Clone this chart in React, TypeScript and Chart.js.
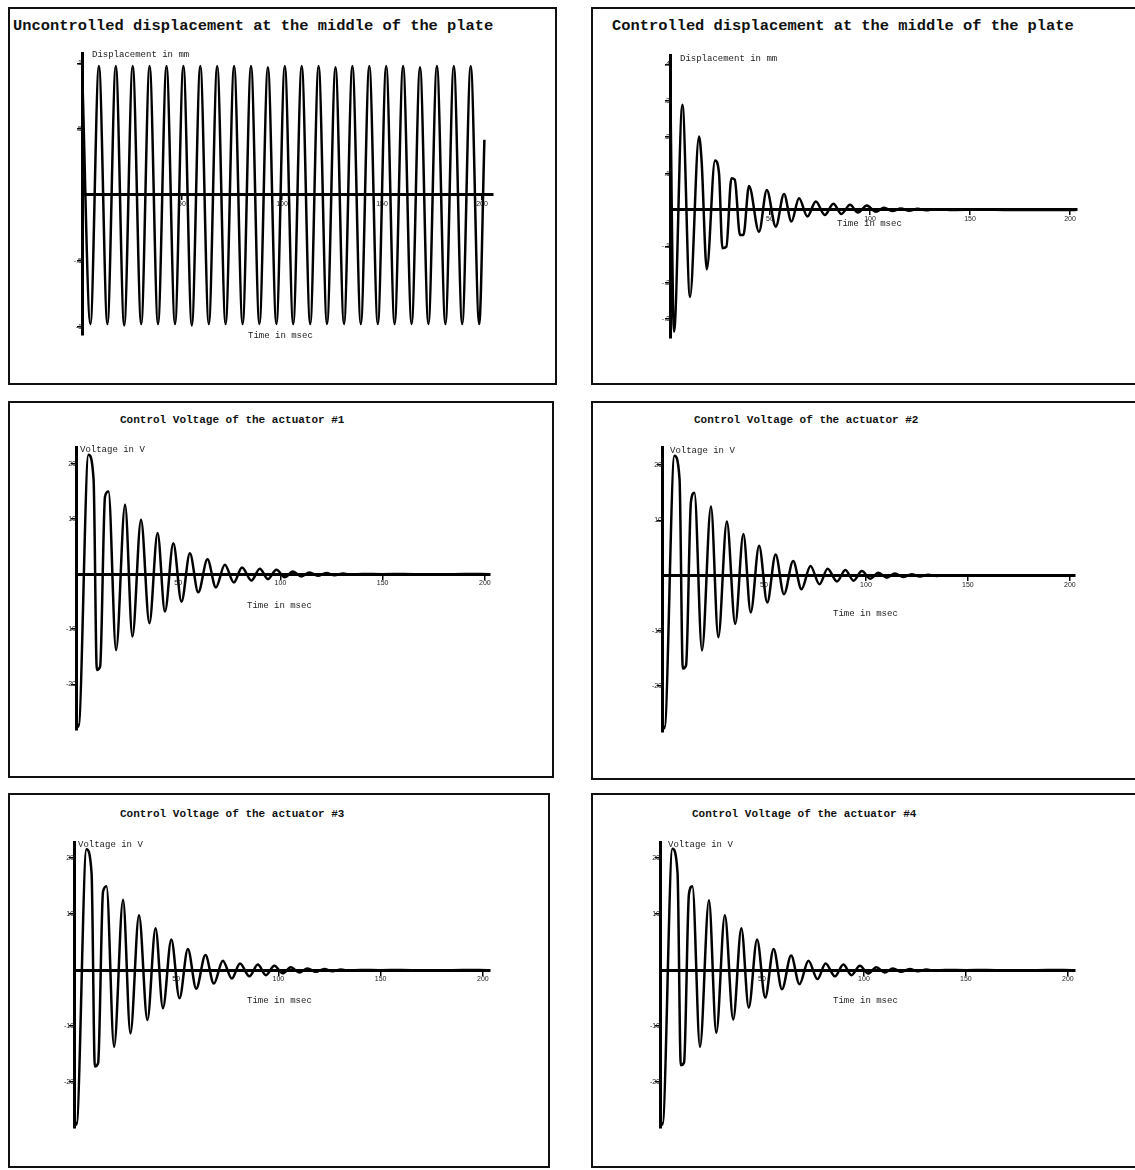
import React, { useEffect, useRef } from "react";
import { Chart, registerables } from "chart.js";
Chart.register(...registerables);

// ---------- DATA ----------
const uncontrolledTime = [0, 4.2, 8.45, 12.7, 16.9, 21.1, 25.35, 29.6, 33.8, 38.0, 42.25, 46.5, 50.7, 54.9, 59.15, 63.4, 67.6, 71.8, 76.05, 80.3, 84.5, 88.7, 92.95, 97.2, 101.4, 105.6, 109.85, 114.1, 118.3, 122.5, 126.75, 131.0, 135.2, 139.4, 143.65, 147.9, 152.1, 156.3, 160.55, 164.8, 169.0, 173.2, 177.45, 181.7, 185.9, 190.1, 194.35, 198.6, 201.2];
const uncontrolledDisp = [0.98, -0.98, 0.98, -0.98, 0.98, -0.99, 0.98, -0.98, 0.98, -0.98, 0.98, -0.98, 0.98, -0.99, 0.98, -0.98, 0.98, -0.98, 0.98, -0.98, 0.98, -0.98, 0.97, -0.98, 0.98, -0.98, 0.98, -0.98, 0.98, -0.98, 0.97, -0.98, 0.98, -0.98, 0.98, -0.98, 0.98, -0.98, 0.98, -0.98, 0.97, -0.98, 0.98, -0.98, 0.98, -0.98, 0.98, -0.98, 0.42];

const controlledTime = [0, 2.0, 6.2, 10.0, 14.5, 15.8, 18.4, 22.5, 24.5, 26.2, 28.2, 30.7, 32.4, 35.0, 36.7, 39.5, 44.5, 48.4, 52.9, 57.0, 60.7, 64.5, 68.7, 72.9, 77.4, 81.7, 85.7, 90.0, 94.0, 98.4, 102.9, 107.0, 111.2, 115.4, 119.6, 123.8, 128.0, 132.2, 140, 155, 170, 185, 203];
const controlledDisp = [0.41, -0.335, 0.289, -0.239, 0.202, 0.135, -0.163, 0.136, 0.101, -0.105, -0.101, 0.087, 0.083, -0.069, -0.069, 0.066, -0.06, 0.055, -0.046, 0.044, -0.032, 0.032, -0.018, 0.023, -0.014, 0.017, -0.011, 0.014, -0.007, 0.012, -0.005, 0.006, -0.003, 0.004, -0.002, 0.003, -0.001, 0.002, 0, 0.001, 0, 0, 0];

const actuatorTime = [0, 1.2, 6.1, 8.6, 10.2, 11.8, 14.2, 15.9, 19.6, 24.0, 27.6, 31.8, 35.9, 39.9, 43.5, 47.6, 51.6, 55.7, 59.8, 64.3, 68.4, 72.8, 77.2, 81.2, 85.8, 89.9, 93.9, 98.0, 102.1, 106.1, 110.2, 114.2, 118.3, 122.4, 126.5, 130.6, 134.7, 140, 150, 160, 175, 190, 202];
const actuator1Volt = [-26.5, -27.7, 21.7, 17.2, -17.4, -16.8, 14.1, 15.0, -13.8, 12.6, -11.3, 9.9, -8.9, 7.5, -6.8, 5.6, -5.0, 3.8, -3.3, 2.7, -2.4, 1.7, -1.5, 1.2, -1.15, 1.0, -0.9, 0.8, -0.55, 0.5, -0.4, 0.3, -0.3, 0.2, -0.2, 0.12, -0.1, 0.05, 0, 0.05, -0.05, 0.05, 0];
const actuator2Volt = [-26.8, -27.7, 21.7, 17.5, -16.9, -16.3, 13.4, 15.0, -13.6, 12.5, -11.2, 9.8, -8.8, 7.5, -6.7, 5.4, -4.9, 3.8, -3.4, 2.6, -2.5, 1.7, -1.6, 1.2, -1.1, 1.0, -0.95, 0.8, -0.6, 0.5, -0.4, 0.35, -0.3, 0.2, -0.2, 0.12, -0.1, 0.05, 0, 0.05, -0.05, 0.05, 0];
const actuator3Volt = [-26.6, -27.6, 21.6, 17.3, -17.2, -16.6, 14.0, 15.0, -13.7, 12.6, -11.3, 9.8, -8.9, 7.5, -6.8, 5.5, -5.0, 3.8, -3.3, 2.7, -2.4, 1.7, -1.5, 1.2, -1.1, 1.0, -0.9, 0.8, -0.55, 0.5, -0.4, 0.3, -0.3, 0.2, -0.2, 0.12, -0.1, 0.05, 0, 0.05, -0.05, 0.05, 0];
const actuator4Volt = [-26.7, -27.6, 21.7, 17.4, -17.0, -16.5, 13.6, 15.0, -13.7, 12.5, -11.2, 9.8, -8.8, 7.5, -6.7, 5.5, -4.9, 3.8, -3.4, 2.6, -2.5, 1.7, -1.6, 1.2, -1.1, 1.0, -0.9, 0.8, -0.6, 0.5, -0.4, 0.3, -0.3, 0.2, -0.2, 0.12, -0.1, 0.05, 0, 0.05, -0.05, 0.05, 0];

const timeTicks = [50, 100, 150, 200];
const timeTickLabels = ["50", "100", "150", "200"];
const uncontrolledTicks = [1, 0.5, -0.5, -1];
const uncontrolledTickLabels = ["1", ".5", "-.5", "-1"];
const controlledTicks = [0.4, 0.3, 0.2, 0.1, -0.1, -0.2, -0.3];
const controlledTickLabels = [".4", ".3", ".2", ".1", "-.1", "-.2", "-.3"];
const voltTicks = [20, 10, -10, -20];
const voltTickLabels = ["20", "10", "-10", "-20"];

// ---------- PANEL CONFIG ----------
type PanelCfg = {
  box: [number, number, number, number];
  plot: [number, number, number, number];
  xMax: number;
  yMin: number;
  yMax: number;
  yTicks: number[];
  yLabels: string[];
  time: number[];
  values: number[];
  title: string;
  titlePos: [number, number];
  titleSize: number;
  yTitle: string;
  yTitlePos: [number, number];
  xTitle: string;
  xTitlePos: [number, number];
};

const panels: PanelCfg[] = [
  {
    box: [8, 7, 549, 378], plot: [82, 53, 493, 335], xMax: 205.5, yMin: -1.063, yMax: 1.078,
    yTicks: uncontrolledTicks, yLabels: uncontrolledTickLabels,
    time: uncontrolledTime, values: uncontrolledDisp,
    title: "Uncontrolled displacement at the middle of the plate", titlePos: [13, 27], titleSize: 15.4,
    yTitle: "Displacement in mm", yTitlePos: [92, 55], xTitle: "Time in msec", xTitlePos: [248, 336],
  },
  {
    box: [591, 7, 560, 378], plot: [670, 55, 1077, 338], xMax: 203.5, yMin: -0.352, yMax: 0.426,
    yTicks: controlledTicks, yLabels: controlledTickLabels,
    time: controlledTime, values: controlledDisp,
    title: "Controlled displacement at the middle of the plate", titlePos: [612, 27], titleSize: 15.4,
    yTitle: "Displacement in mm", yTitlePos: [680, 59], xTitle: "Time in msec", xTitlePos: [837, 224],
  },
  {
    box: [8, 401, 546, 377], plot: [76, 447, 490, 730], xMax: 202.5, yMin: -28.3, yMax: 23.1,
    yTicks: voltTicks, yLabels: voltTickLabels,
    time: actuatorTime, values: actuator1Volt,
    title: "Control Voltage of the actuator #1", titlePos: [120, 420], titleSize: 11,
    yTitle: "Voltage in V", yTitlePos: [80, 450], xTitle: "Time in msec", xTitlePos: [247, 606],
  },
  {
    box: [591, 401, 560, 379], plot: [662, 447, 1075, 732], xMax: 202.5, yMin: -28.4, yMax: 23.3,
    yTicks: voltTicks, yLabels: voltTickLabels,
    time: actuatorTime, values: actuator2Volt,
    title: "Control Voltage of the actuator #2", titlePos: [694, 420], titleSize: 11,
    yTitle: "Voltage in V", yTitlePos: [670, 451], xTitle: "Time in msec", xTitlePos: [833, 614],
  },
  {
    box: [8, 793, 542, 375], plot: [74, 842, 490, 1128], xMax: 203.5, yMin: -28.2, yMax: 22.9,
    yTicks: voltTicks, yLabels: voltTickLabels,
    time: actuatorTime, values: actuator3Volt,
    title: "Control Voltage of the actuator #3", titlePos: [120, 814], titleSize: 11,
    yTitle: "Voltage in V", yTitlePos: [78, 845], xTitle: "Time in msec", xTitlePos: [247, 1001],
  },
  {
    box: [591, 793, 560, 375], plot: [660, 842, 1075, 1128], xMax: 203.5, yMin: -28.2, yMax: 22.9,
    yTicks: voltTicks, yLabels: voltTickLabels,
    time: actuatorTime, values: actuator4Volt,
    title: "Control Voltage of the actuator #4", titlePos: [692, 814], titleSize: 11,
    yTitle: "Voltage in V", yTitlePos: [668, 845], xTitle: "Time in msec", xTitlePos: [833, 1001],
  },
];

function Panel({ cfg }: { cfg: PanelCfg }) {
  const ref = useRef<HTMLCanvasElement>(null);
  const [bl, bt, bw, bh] = cfg.box;
  useEffect(() => {
    const [pl, pt, pr, pb] = cfg.plot;
    const textPlugin = {
      id: "axisTexts",
      afterDraw(chart: any) {
        const ctx = chart.ctx;
        ctx.save();
        ctx.fillStyle = "#222";
        ctx.font = '9px "Liberation Mono", monospace';
        ctx.textBaseline = "middle";
        ctx.textAlign = "left";
        ctx.fillText(cfg.yTitle, cfg.yTitlePos[0] - bl, cfg.yTitlePos[1] - bt);
        ctx.fillText(cfg.xTitle, cfg.xTitlePos[0] - bl, cfg.xTitlePos[1] - bt);
        ctx.restore();
      },
    };
    const tickFont = { size: 7, family: '"Liberation Sans", sans-serif' };
    const chart = new Chart(ref.current as HTMLCanvasElement, {
      type: "line",
      data: {
        datasets: [
          {
            data: cfg.time.map((t, i) => ({ x: t, y: cfg.values[i] })),
            borderColor: "#000",
            borderWidth: 2.5,
            pointRadius: 0,
            cubicInterpolationMode: "monotone",
            fill: false,
          },
        ],
      },
      options: {
        animation: false,
        responsive: false,
        devicePixelRatio: 1,
        events: [],
        layout: { padding: { left: pl - bl, top: pt - bt, right: bl + bw - pr, bottom: bt + bh - pb } },
        plugins: { legend: { display: false }, tooltip: { enabled: false }, title: { display: false } },
        scales: {
          x: {
            type: "linear",
            position: { y: 0 } as any,
            min: 0,
            max: cfg.xMax,
            grid: { drawOnChartArea: false, drawTicks: true, tickLength: 4, color: "#000", lineWidth: 1.5 },
            border: { display: true, color: "#000", width: 3 },
            afterBuildTicks: (s: any) => {
              s.ticks = timeTicks.map((v) => ({ value: v }));
            },
            ticks: {
              font: tickFont,
              color: "#222",
              padding: 1,
              maxRotation: 0,
              autoSkip: false,
              callback: (v: any) => timeTickLabels[timeTicks.indexOf(Number(v))] ?? "",
            },
          },
          y: {
            type: "linear",
            position: { x: 0 } as any,
            min: cfg.yMin,
            max: cfg.yMax,
            grid: { drawOnChartArea: false, drawTicks: true, tickLength: 4, color: "#000", lineWidth: 1.5 },
            border: { display: true, color: "#000", width: 3 },
            afterBuildTicks: (s: any) => {
              s.ticks = cfg.yTicks.map((v) => ({ value: v }));
            },
            ticks: {
              font: tickFont,
              color: "#222",
              padding: 1,
              autoSkip: false,
              callback: (v: any) => {
                const i = cfg.yTicks.findIndex((t) => Math.abs(t - Number(v)) < 1e-9);
                return i >= 0 ? cfg.yLabels[i] : "";
              },
            },
          },
        },
      } as any,
      plugins: [textPlugin],
    });
    return () => chart.destroy();
  }, []);
  return (
    <>
      <div
        style={{
          position: "absolute",
          left: bl,
          top: bt,
          width: bw,
          height: bh,
          border: "2px solid #111",
          boxSizing: "border-box",
        }}
      />
      <div
        style={{
          position: "absolute",
          left: cfg.titlePos[0],
          top: cfg.titlePos[1] - cfg.titleSize / 2,
          fontFamily: '"Liberation Mono", monospace',
          fontWeight: "bold",
          fontSize: cfg.titleSize,
          lineHeight: 1,
          whiteSpace: "nowrap",
          color: "#111",
        }}
      >
        {cfg.title}
      </div>
      <canvas ref={ref} width={bw} height={bh} style={{ position: "absolute", left: bl, top: bt }} />
    </>
  );
}

export default function App() {
  return (
    <div
      style={{
        position: "absolute",
        left: 0,
        top: 0,
        width: 1135,
        height: 1170,
        overflow: "hidden",
        background: "#fff",
      }}
    >
      {panels.map((p, i) => (
        <Panel key={i} cfg={p} />
      ))}
    </div>
  );
}
